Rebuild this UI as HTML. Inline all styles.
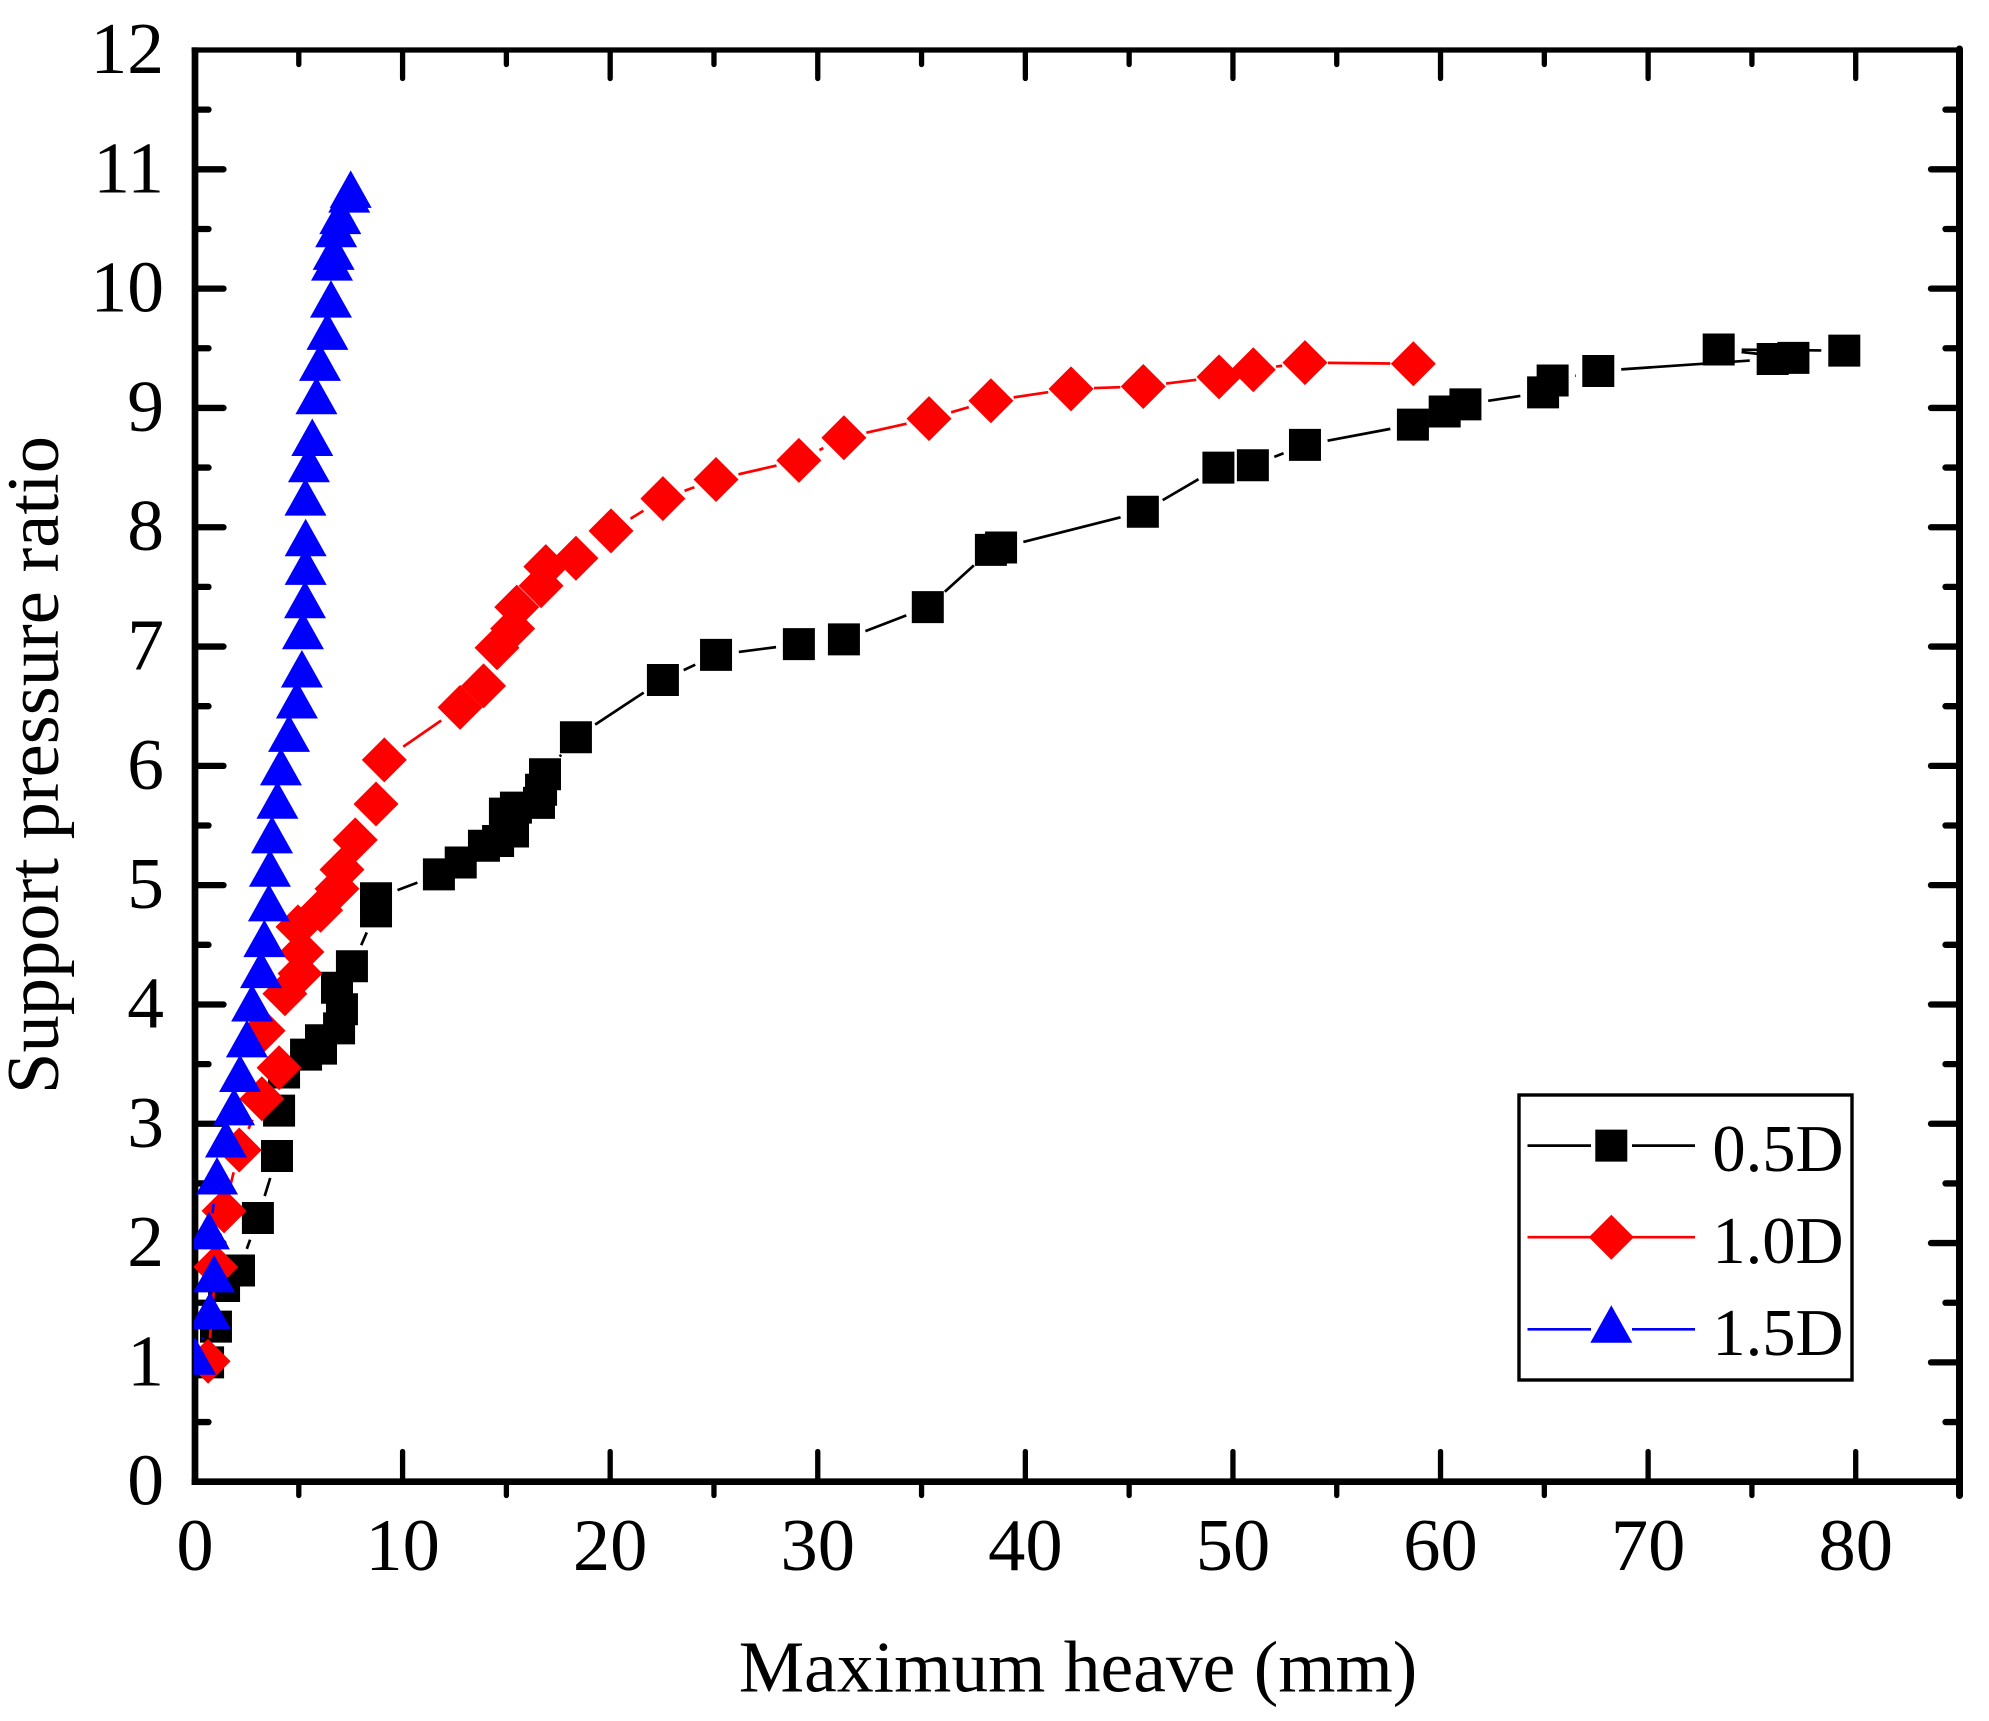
<!DOCTYPE html>
<html lang="en">
<head>
<meta charset="utf-8">
<title>Support pressure ratio vs maximum heave</title>
<style>
  html, body { margin: 0; padding: 0; background: #fff; }
  svg { display: block; }
  text { font-family: "Liberation Serif", "Times New Roman", serif; fill: #000; }
</style>
</head>
<body>
<svg id="chart" xmlns="http://www.w3.org/2000/svg" width="1989" height="1721" viewBox="0 0 1989 1721">
  <rect x="0" y="0" width="1989" height="1721" fill="#fff"/>
  <defs>
    <clipPath id="plot-clip"><rect x="194" y="40" width="1775" height="1450"/></clipPath>
  </defs>
  <g id="axes"></g>
  <g id="series" clip-path="url(#plot-clip)"></g>
  <text x="1078" y="1691.5" font-size="73.6" text-anchor="middle">Maximum heave (mm)</text>
  <text transform="translate(58 765) rotate(-90)" font-size="74.5" text-anchor="middle">Support pressure ratio</text>
  <g id="legend"></g>
</svg>
<script>
const xTickMajor = [0, 10, 20, 30, 40, 50, 60, 70, 80];
const xTickMinor = [5, 15, 25, 35, 45, 55, 65, 75, 85];
const yTickMajor = [0, 1, 2, 3, 4, 5, 6, 7, 8, 9, 10, 11, 12];
const yTickMinor = [0.5, 1.5, 2.5, 3.5, 4.5, 5.5, 6.5, 7.5, 8.5, 9.5, 10.5, 11.5];

const seriesNames = ['0.5D', '1.0D', '1.5D'];

const heave05 = [0.63, 1.01, 1.4, 2.12, 3.03, 3.95, 4.05, 4.29, 5.35, 6.07, 6.07, 6.94, 7.08, 6.84, 7.56, 8.72, 8.72, 11.75, 12.8, 13.92, 14.6, 15.32, 14.93, 15.46, 16.57, 16.67, 16.86, 18.35, 22.54, 25.1, 29.09, 31.26, 35.3, 38.34, 38.83, 45.66, 49.3, 50.96, 53.47, 58.67, 60.2, 61.2, 64.94, 65.4, 67.6, 76.0, 77.0, 73.4, 79.45];
const ratio05 = [1.0, 1.3, 1.64, 1.77, 2.21, 2.73, 3.11, 3.43, 3.58, 3.63, 3.7, 3.8, 3.96, 4.14, 4.32, 4.78, 4.89, 5.09, 5.19, 5.33, 5.37, 5.45, 5.6, 5.65, 5.69, 5.8, 5.93, 6.24, 6.72, 6.93, 7.02, 7.06, 7.33, 7.81, 7.83, 8.13, 8.5, 8.52, 8.69, 8.86, 8.97, 9.03, 9.13, 9.23, 9.31, 9.41, 9.42, 9.49, 9.48];

const heave10 = [0.63, 1.0, 1.4, 2.13, 3.22, 4.05, 3.28, 4.33, 5.06, 5.15, 4.96, 6.05, 6.84, 7.08, 7.72, 8.72, 9.12, 12.77, 13.9, 14.55, 15.3, 15.5, 16.67, 16.9, 18.35, 20.04, 22.54, 25.1, 29.09, 31.26, 35.36, 38.34, 42.2, 45.68, 49.33, 50.98, 53.47, 58.69];
const ratio10 = [1.01, 1.8, 2.27, 2.78, 3.21, 3.47, 3.78, 4.09, 4.26, 4.44, 4.65, 4.79, 4.97, 5.13, 5.38, 5.68, 6.05, 6.49, 6.67, 6.99, 7.15, 7.33, 7.51, 7.67, 7.74, 7.97, 8.24, 8.4, 8.56, 8.75, 8.91, 9.06, 9.16, 9.18, 9.26, 9.32, 9.38, 9.37];

const heave15 = [0.0, 0.72, 0.92, 0.67, 1.06, 1.49, 1.88, 2.17, 2.5, 2.75, 3.18, 3.34, 3.56, 3.61, 3.71, 3.97, 4.14, 4.53, 4.91, 5.15, 5.2, 5.3, 5.33, 5.33, 5.32, 5.49, 5.65, 5.85, 6.02, 6.38, 6.55, 6.6, 6.68, 6.8, 7.0, 7.43, 7.5];
const ratio15 = [1.01, 1.39, 1.7, 2.06, 2.52, 2.83, 3.1, 3.38, 3.67, 3.97, 4.25, 4.51, 4.81, 5.1, 5.38, 5.67, 5.95, 6.23, 6.51, 6.77, 7.09, 7.35, 7.63, 7.87, 8.21, 8.49, 8.71, 9.06, 9.34, 9.6, 9.87, 10.18, 10.27, 10.46, 10.57, 10.75, 10.79];

const SVG_NS = 'http://www.w3.org/2000/svg';
const PLOT = { left: 195, right: 1959.5, top: 50, bottom: 1481.7, xMax: 85, yMax: 12 };
const axesLayer = document.getElementById('axes');
const seriesLayer = document.getElementById('series');
const legendLayer = document.getElementById('legend');

function xScale(v) { return PLOT.left + (v / PLOT.xMax) * (PLOT.right - PLOT.left); }
function yScale(v) { return PLOT.bottom - (v / PLOT.yMax) * (PLOT.bottom - PLOT.top); }

function line(parent, x1, y1, x2, y2, color, width, cap) {
  const el = document.createElementNS(SVG_NS, 'line');
  el.setAttribute('x1', x1);
  el.setAttribute('y1', y1);
  el.setAttribute('x2', x2);
  el.setAttribute('y2', y2);
  el.setAttribute('stroke', color);
  el.setAttribute('stroke-width', width);
  el.setAttribute('stroke-linecap', cap || 'butt');
  parent.appendChild(el);
  return el;
}

function markerPath(kind, cx, cy) {
  if (kind === 'square') {
    return 'M' + (cx - 16) + ' ' + (cy - 16) + 'H' + (cx + 16) + 'V' + (cy + 16) + 'H' + (cx - 16) + 'Z';
  }
  if (kind === 'diamond') {
    return 'M' + cx + ' ' + (cy - 22.5) + 'L' + (cx + 22.5) + ' ' + cy + 'L' + cx + ' ' + (cy + 22.5) + 'L' + (cx - 22.5) + ' ' + cy + 'Z';
  }
  return 'M' + cx + ' ' + (cy - 24) + 'L' + (cx + 21) + ' ' + (cy + 13.5) + 'L' + (cx - 21) + ' ' + (cy + 13.5) + 'Z';
}

function marker(parent, kind, cx, cy, color) {
  const el = document.createElementNS(SVG_NS, 'path');
  el.setAttribute('d', markerPath(kind, cx, cy));
  el.setAttribute('fill', color);
  parent.appendChild(el);
  return el;
}

function tickLabel(parent, x, y, str, anchor, size) {
  const el = document.createElementNS(SVG_NS, 'text');
  el.setAttribute('x', x);
  el.setAttribute('y', y);
  el.setAttribute('font-size', size);
  el.setAttribute('text-anchor', anchor);
  el.textContent = str;
  parent.appendChild(el);
  return el;
}

function drawAxes() {
  const XW = 5.3, YW = 6.3;
  xTickMajor.forEach(function (v) {
    const x = xScale(v);
    if (v !== 0) {
      const a = line(axesLayer, x, PLOT.bottom, x, 1451.5, '#000', XW, 'round');
      
      
      const b = line(axesLayer, x, PLOT.top, x, 78.5, '#000', XW, 'round');
      
      
    }
    const t = tickLabel(axesLayer, x, 1570, String(v), 'middle', 74.5);
    
    
  });
  xTickMinor.forEach(function (v) {
    const x = xScale(v);
    const a = line(axesLayer, x, PLOT.bottom, x, 1495.5, '#000', XW, 'round');
    
    
    if (v !== 85) {
      const b = line(axesLayer, x, PLOT.top, x, 64.5, '#000', XW, 'round');
      
      
    }
  });
  yTickMajor.forEach(function (v) {
    const y = yScale(v);
    if (v !== 0 && v !== 12) {
      const a = line(axesLayer, PLOT.left, y, 223.5, y, '#000', YW, 'round');
      
      
      const b = line(axesLayer, PLOT.right, y, 1931, y, '#000', YW, 'round');
      
      
    }
    const t = tickLabel(axesLayer, 164, y + 23, String(v), 'end', 73.5);
    
    
  });
  yTickMinor.forEach(function (v) {
    const y = yScale(v);
    const a = line(axesLayer, PLOT.left, y, 208.5, y, '#000', YW, 'round');
    
    
    const b = line(axesLayer, PLOT.right, y, 1945.5, y, '#000', YW, 'round');
    
    
  });
  const sl = line(axesLayer, PLOT.left, 47.4, PLOT.left, 1485, '#000', 6.7, 'butt');
  
  
  const sb = line(axesLayer, 191.7, PLOT.bottom, 1963, PLOT.bottom, '#000', 6.7, 'butt');
  
  
  const st = line(axesLayer, 191.7, PLOT.top, 1962, PLOT.top, '#000', 5.3, 'butt');
  
  
  const sr = line(axesLayer, PLOT.right, 49, PLOT.right, 1495.5, '#000', 7, 'round');
  
  
}

function drawSeries(xs, ys, kind, color, name) {
  const g = document.createElementNS(SVG_NS, 'g');
  
  
  seriesLayer.appendChild(g);
  const GAP = 23;
  for (let i = 0; i < xs.length - 1; i++) {
    const x1 = xScale(xs[i]), y1 = yScale(ys[i]);
    const x2 = xScale(xs[i + 1]), y2 = yScale(ys[i + 1]);
    const d = Math.hypot(x2 - x1, y2 - y1);
    if (d > GAP * 2) {
      const ux = (x2 - x1) / d, uy = (y2 - y1) / d;
      const seg = line(g, x1 + ux * GAP, y1 + uy * GAP, x2 - ux * GAP, y2 - uy * GAP, color, 2.7, 'butt');
      
      
    }
  }
  for (let i = 0; i < xs.length; i++) {
    const m = marker(g, kind, xScale(xs[i]), yScale(ys[i]), color);
    
    
  }
}

function drawLegend() {
  const box = document.createElementNS(SVG_NS, 'rect');
  box.setAttribute('x', 1519);
  box.setAttribute('y', 1095);
  box.setAttribute('width', 333);
  box.setAttribute('height', 285);
  box.setAttribute('fill', '#fff');
  box.setAttribute('stroke', '#000');
  box.setAttribute('stroke-width', 3.4);
  
  
  legendLayer.appendChild(box);
  const rows = [
    { kind: 'square', color: '#000', y: 1145.6, base: 1171 },
    { kind: 'diamond', color: '#f00', y: 1237.2, base: 1263 },
    { kind: 'triangle', color: '#00f', y: 1329.3, base: 1355 }
  ];
  rows.forEach(function (r, i) {
    const g = document.createElementNS(SVG_NS, 'g');
    
    
    legendLayer.appendChild(g);
    line(g, 1527.5, r.y, 1591, r.y, r.color, 2.7, 'butt');
    line(g, 1632, r.y, 1695, r.y, r.color, 2.7, 'butt');
    marker(g, r.kind, 1611.3, r.y, r.color);
    const t = tickLabel(g, 1843.5, r.base, seriesNames[i], 'end', 66.5);
    
    
  });
}

drawAxes();
drawSeries(heave05, ratio05, 'square', '#000', 'series-0-5d');
drawSeries(heave10, ratio10, 'diamond', '#f00', 'series-1-0d');
drawSeries(heave15, ratio15, 'triangle', '#00f', 'series-1-5d');
drawLegend();
</script>
</body>
</html>
